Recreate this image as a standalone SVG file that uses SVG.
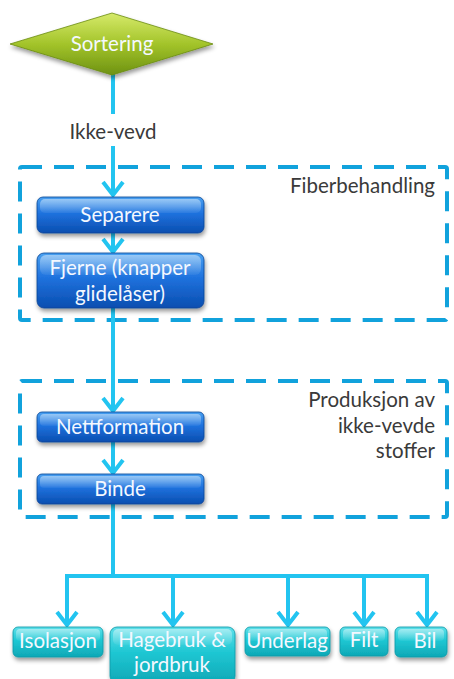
<svg xmlns="http://www.w3.org/2000/svg" width="454" height="679" viewBox="0 0 454 679">
  <defs>
    <linearGradient id="gBlue" x1="0" y1="0" x2="0" y2="1">
      <stop offset="0" stop-color="#48a0f0"/>
      <stop offset="0.45" stop-color="#1f72de"/>
      <stop offset="1" stop-color="#0a4eb0"/>
    </linearGradient>
    <linearGradient id="gTeal" x1="0" y1="0" x2="0" y2="1">
      <stop offset="0" stop-color="#5ee0ea"/>
      <stop offset="0.45" stop-color="#1fc7d3"/>
      <stop offset="1" stop-color="#0ea8b6"/>
    </linearGradient>
    <linearGradient id="gGreen" x1="0" y1="0" x2="0" y2="1">
      <stop offset="0" stop-color="#d6ea6a"/>
      <stop offset="0.5" stop-color="#a3c42a"/>
      <stop offset="1" stop-color="#6e9212"/>
    </linearGradient>
    <linearGradient id="gGloss" x1="0" y1="0" x2="0" y2="1">
      <stop offset="0" stop-color="#ffffff" stop-opacity="0.45"/>
      <stop offset="1" stop-color="#ffffff" stop-opacity="0.05"/>
    </linearGradient>
    <filter id="shadow" x="-10%" y="-20%" width="120%" height="150%">
      <feDropShadow dx="1" dy="3" stdDeviation="2" flood-color="#000" flood-opacity="0.4"/>
    </filter>
    <!-- open chevron head, tip at the end of the line -->
    <marker id="arrow" markerUnits="userSpaceOnUse" markerWidth="20" markerHeight="28" viewBox="-17 -14 20 28" refX="0" refY="0" orient="auto">
      <path d="M-13,-10 L0,0 L-13,10" fill="none" stroke="#22c4f0" stroke-width="4" stroke-linejoin="miter"/>
    </marker>
    <style>
      .conn { fill: none; stroke: #22c4f0; stroke-width: 4; }
      .group { fill: none; stroke: #11a2dc; stroke-width: 4; stroke-dasharray: 20 12; }
      .blue { fill: url(#gBlue); stroke: #0a4596; stroke-width: 0.8; filter: url(#shadow); }
      .teal { fill: url(#gTeal); stroke: #0c98a6; stroke-width: 0.8; filter: url(#shadow); }
      .gloss { fill: url(#gGloss); }
      .lbl { font-family: Lato, "Liberation Sans", sans-serif; font-size: 20.5px; fill: #f4f8ff; text-anchor: middle; }
      .note { font-family: Lato, "Liberation Sans", sans-serif; font-size: 20.5px; fill: #3a3a3a; }
    </style>
  </defs>

  <!-- dashed process groups -->
  <g id="group-fiber">
    <rect class="group" x="20" y="167" width="427" height="153" rx="2"/>
    <text class="note" x="435" y="193" text-anchor="end">Fiberbehandling</text>
  </g>
  <g id="group-produksjon">
    <rect class="group" x="20" y="381" width="427" height="136" rx="2"/>
    <text class="note" x="435" y="407" text-anchor="end">Produksjon av</text>
    <text class="note" x="435" y="433" text-anchor="end">ikke-vevde</text>
    <text class="note" x="435" y="458" text-anchor="end">stoffer</text>
  </g>

  <!-- connectors -->
  <g id="connectors">
    <line class="conn" x1="113" y1="74" x2="113" y2="114"/>
    <text class="note" x="113" y="139" text-anchor="middle">Ikke-vevd</text>
    <line class="conn" x1="113" y1="146" x2="113" y2="195" marker-end="url(#arrow)"/>
    <line class="conn" x1="113" y1="233" x2="113" y2="252" marker-end="url(#arrow)"/>
    <line class="conn" x1="113" y1="308" x2="113" y2="411" marker-end="url(#arrow)"/>
    <line class="conn" x1="113" y1="442" x2="113" y2="473" marker-end="url(#arrow)"/>
    <polyline class="conn" points="113,504 113,576"/>
    <line class="conn" x1="65" y1="576" x2="429" y2="576"/>
    <line class="conn" x1="67" y1="576" x2="67" y2="625" marker-end="url(#arrow)"/>
    <line class="conn" x1="173" y1="576" x2="173" y2="625" marker-end="url(#arrow)"/>
    <line class="conn" x1="288" y1="576" x2="288" y2="625" marker-end="url(#arrow)"/>
    <line class="conn" x1="364" y1="576" x2="364" y2="625" marker-end="url(#arrow)"/>
    <line class="conn" x1="427" y1="576" x2="427" y2="625" marker-end="url(#arrow)"/>
  </g>

  <!-- start decision -->
  <g id="sortering">
    <polygon points="10,44 112,13 213,44 112,75" fill="url(#gGreen)" stroke="#6a8c10" stroke-width="0.8" filter="url(#shadow)"/>
    <text class="lbl" x="112" y="51" fill="#f3f9dc">Sortering</text>
  </g>

  <!-- fibre treatment -->
  <g id="separere">
    <rect class="blue" x="37" y="197" width="167" height="36" rx="6"/>
    <rect class="gloss" x="40" y="199" width="161" height="14" rx="5"/>
    <text class="lbl" x="120" y="222">Separere</text>
  </g>
  <g id="fjerne">
    <rect class="blue" x="37" y="253" width="167" height="55" rx="7"/>
    <rect class="gloss" x="40" y="255" width="161" height="20" rx="6"/>
    <text class="lbl" x="120" y="275">Fjerne (knapper</text>
    <text class="lbl" x="120" y="301">glidelåser)</text>
  </g>

  <!-- nonwoven production -->
  <g id="nettformation">
    <rect class="blue" x="37" y="412" width="167" height="30" rx="5"/>
    <rect class="gloss" x="40" y="414" width="161" height="12" rx="4"/>
    <text class="lbl" x="120" y="434">Nettformation</text>
  </g>
  <g id="binde">
    <rect class="blue" x="37" y="474" width="167" height="30" rx="5"/>
    <rect class="gloss" x="40" y="476" width="161" height="12" rx="4"/>
    <text class="lbl" x="120" y="496">Binde</text>
  </g>

  <!-- applications -->
  <g id="isolasjon">
    <rect class="teal" x="13" y="627" width="90" height="30" rx="5"/>
    <rect class="gloss" x="16" y="629" width="84" height="12" rx="4"/>
    <text class="lbl" x="58" y="648">Isolasjon</text>
  </g>
  <g id="hagebruk">
    <rect class="teal" x="110" y="627" width="125" height="56" rx="7"/>
    <rect class="gloss" x="113" y="629" width="119" height="16" rx="5"/>
    <text class="lbl" x="172" y="647">Hagebruk &amp;</text>
    <text class="lbl" x="172" y="672">jordbruk</text>
  </g>
  <g id="underlag">
    <rect class="teal" x="245" y="627" width="85" height="29" rx="5"/>
    <rect class="gloss" x="248" y="629" width="79" height="12" rx="4"/>
    <text class="lbl" x="287" y="648">Underlag</text>
  </g>
  <g id="filt">
    <rect class="teal" x="340" y="627" width="48" height="29" rx="5"/>
    <rect class="gloss" x="343" y="629" width="42" height="12" rx="4"/>
    <text class="lbl" x="364" y="647">Filt</text>
  </g>
  <g id="bil">
    <rect class="teal" x="395" y="627" width="52" height="30" rx="5"/>
    <rect class="gloss" x="398" y="629" width="46" height="12" rx="4"/>
    <text class="lbl" x="425" y="648">Bil</text>
  </g>
</svg>
